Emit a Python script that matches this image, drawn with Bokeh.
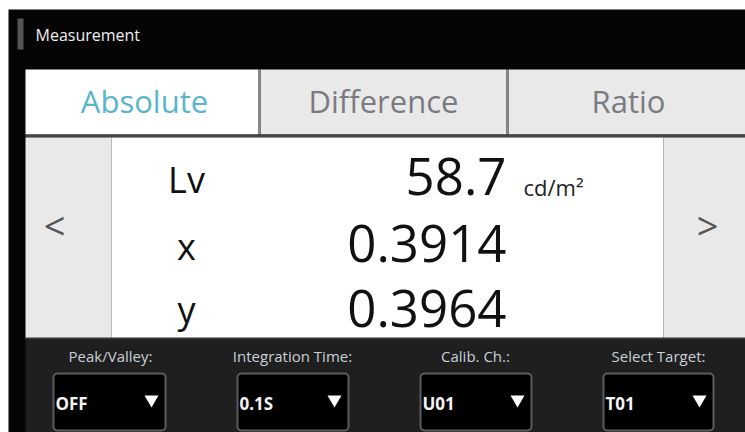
from bokeh.plotting import figure
from bokeh.models import Range1d
from bokeh.core.properties import value
from bokeh.embed import file_html
from bokeh.resources import INLINE

# ---- content ----
panel_title = "Measurement"
tab_labels = ["Absolute", "Difference", "Ratio"]
quantity_labels = ["Lv", "x", "y"]
quantity_values = ["58.7", "0.3914", "0.3964"]
lv_unit = "cd/m²"
control_labels = ["Peak/Valley:", "Integration Time:", "Calib. Ch.:", "Select Target:"]
control_values = ["OFF", "0.1S", "U01", "T01"]

FONT = value("Open Sans")


def mid(baseline, size):
    # convert a desired alphabetic baseline to a "middle" anchor
    return baseline - 0.40 * size


p = figure(width=745, height=432, x_range=Range1d(0, 745), y_range=Range1d(432, 0),
           output_backend="svg", toolbar_location=None, min_border=0)
p.axis.visible = False
p.grid.visible = False
p.outline_line_color = None
p.background_fill_color = "white"
p.border_fill_color = "white"

# background
p.quad(left=[8], right=[745], top=[9], bottom=[432], fill_color="#050505", line_color=None)
# header accent bar
p.quad(left=[17], right=[23], top=[18], bottom=[49], fill_color="#555555", line_color=None)
p.text(x=[35], y=[mid(41, 16)], text=[panel_title], text_font=FONT, text_font_size="16px",
       text_color="#eeeeee", text_baseline="middle", text_align="left")

# tabs
tab_left = [25, 260, 508]
tab_right = [258, 506, 745]
tab_fill = ["#ffffff", "#e9e9e9", "#e9e9e9"]
tab_color = ["#58b6c9", "#7a7b80", "#7a7b80"]
p.quad(left=tab_left, right=tab_right, top=[69] * 3, bottom=[134] * 3,
       fill_color=tab_fill, line_color=None)
p.segment(x0=[259, 507], y0=[69, 69], x1=[259, 507], y1=[134, 134],
          line_color="#8a8a8a", line_width=2)
p.quad(left=[25], right=[745], top=[134], bottom=[137], fill_color="#454545", line_color=None)
tab_cx = [144, 383, 628]
p.text(x=tab_cx, y=[mid(113, 31)] * 3, text=tab_labels, text_font=FONT, text_font_size="31px",
       text_color=tab_color, text_align="center", text_baseline="middle")

# measurement area
p.quad(left=[25, 111, 663], right=[111, 663, 745], top=[137] * 3, bottom=[338] * 3,
       fill_color=["#e9e9e9", "#ffffff", "#e9e9e9"], line_color=None)
p.text(x=[54, 707], y=[224, 224], text=["<", ">"], text_font=FONT, text_font_size="38px",
       text_color="#555555", text_align="center", text_baseline="middle")

lab_base = [193, 260, 323]
p.text(x=[186] * 3, y=[mid(b, 36) for b in lab_base], text=quantity_labels, text_font=FONT,
       text_font_size="36px", text_color="#111111", text_align="center", text_baseline="middle")
val_base = [196, 263, 328]
p.text(x=[506] * 3, y=[mid(b, 51) for b in val_base], text=quantity_values, text_font=FONT,
       text_font_size="51px", text_color="#111111", text_align="right", text_baseline="middle")
p.text(x=[523], y=[mid(195, 22)], text=[lv_unit], text_font=FONT, text_font_size="22px",
       text_color="#222222", text_align="left", text_baseline="middle")

# bottom control bar
p.quad(left=[25], right=[745], top=[338], bottom=[432], fill_color="#1f1f1f", line_color=None)
p.quad(left=[25], right=[745], top=[337], bottom=[339], fill_color="#343434", line_color=None)

box_left = [53, 237, 420, 603]
box_right = [165, 348, 531, 713]
label_cx = [110, 292, 475, 658]
p.text(x=label_cx, y=[mid(361, 15)] * 4, text=control_labels, text_font=FONT,
       text_font_size="15px", text_color="#c8d0d8", text_align="center", text_baseline="middle")
p.quad(left=box_left, right=box_right, top=[373] * 4, bottom=[430] * 4,
       fill_color="#000000", line_color="#5c5c5c", line_width=2, border_radius=4)
p.text(x=[l + 2 for l in box_left], y=[mid(410, 17)] * 4, text=control_values, text_font=FONT,
       text_font_size="17px", text_font_style="bold", text_color="#f4f4f4",
       text_align="left", text_baseline="middle")
p.scatter(x=[r - 14 for r in box_right], y=[399] * 4, marker="inverted_triangle", size=14,
          fill_color="#ffffff", line_color=None)

open("out.html", "w").write(file_html(p, INLINE))
